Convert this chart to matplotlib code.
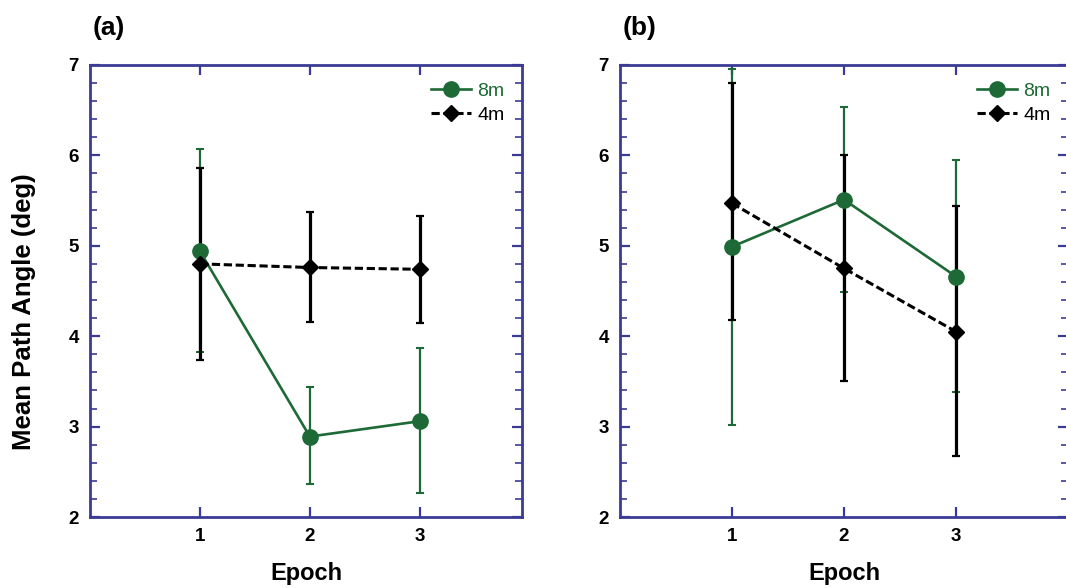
import numpy as np
import matplotlib
matplotlib.use("Agg")
import matplotlib.pyplot as plt
from matplotlib.lines import Line2D
from matplotlib.ticker import MultipleLocator

# Data (mean, lower end, upper end of error bar)
epochs = [1, 2, 3]

a_8m_mean = [4.94, 2.89, 3.06]
a_8m_low = [3.82, 2.37, 2.27]
a_8m_high = [6.07, 3.44, 3.87]
a_4m_mean = [4.80, 4.76, 4.74]
a_4m_low = [3.74, 4.16, 4.15]
a_4m_high = [5.86, 5.37, 5.33]

b_8m_mean = [4.99, 5.51, 4.66]
b_8m_low = [3.02, 4.49, 3.38]
b_8m_high = [6.96, 6.54, 5.95]
b_4m_mean = [5.47, 4.75, 4.05]
b_4m_low = [4.18, 3.50, 2.67]
b_4m_high = [6.80, 6.00, 5.44]

GREEN = "#1d6a36"
SPINE = "#3b3b96"
DASH = (0, (2.7, 1.2))

plt.rcParams.update({
    "font.family": ["Liberation Sans", "DejaVu Sans"],
    "font.weight": "bold",
})

fig = plt.figure(figsize=(10.66, 5.88), dpi=100)
ax_a = fig.add_axes([0.0844, 0.1207, 0.4053, 0.7688])
ax_b = fig.add_axes([0.5816, 0.1207, 0.4203, 0.7688])


def draw(ax, m8, l8, h8, m4, l4, h4, xmax, tag):
    m8, l8, h8 = map(np.asarray, (m8, l8, h8))
    m4, l4, h4 = map(np.asarray, (m4, l4, h4))
    # error bars: green below black
    ax.errorbar(epochs, m8, yerr=[m8 - l8, h8 - m8], fmt="none", ecolor=GREEN,
                elinewidth=1.6, capsize=3, capthick=1.5, zorder=2)
    ax.errorbar(epochs, m4, yerr=[m4 - l4, h4 - m4], fmt="none", ecolor="black",
                elinewidth=2.3, capsize=3, capthick=1.6, zorder=3)
    ax.plot(epochs, m8, color=GREEN, linewidth=1.9, marker="o",
            markersize=11, zorder=4)
    ax.plot(epochs, m4, color="black", linestyle=DASH, linewidth=2.2,
            marker="D", markersize=8, zorder=5)

    ax.set_xlim(0, xmax)
    ax.set_ylim(2, 7)
    ax.set_xticks(epochs)
    ax.yaxis.set_major_locator(MultipleLocator(1))
    ax.yaxis.set_minor_locator(MultipleLocator(0.2))
    ax.tick_params(axis="both", which="both", direction="in",
                   top=True, right=True, colors=SPINE, labelcolor="black",
                   labelsize=13.5)
    ax.tick_params(axis="both", which="major", length=7, width=1.6)
    ax.tick_params(axis="y", which="minor", length=5, width=1.2)
    ax.tick_params(axis="y", which="major", pad=8)
    ax.tick_params(axis="x", which="major", pad=8)
    for s in ax.spines.values():
        s.set_color(SPINE)
        s.set_linewidth(2)
    ax.set_xlabel("Epoch", fontsize=17, fontweight="bold", labelpad=12)

    handles = [
        Line2D([], [], color=GREEN, linewidth=1.9, marker="o", markersize=11),
        Line2D([], [], color="black", linestyle=DASH, linewidth=2.2,
               marker="D", markersize=8),
    ]
    leg = ax.legend(handles, ["8m", "4m"], loc="upper right",
                    frameon=False, handlelength=2.1, handletextpad=0.3,
                    labelspacing=0.3, borderaxespad=0.5,
                    prop={"weight": "normal", "size": 14})
    leg.get_texts()[0].set_color(GREEN)
    ax.text(0.005, 1.055, tag, transform=ax.transAxes, fontsize=19,
            fontweight="bold", va="bottom", ha="left")


draw(ax_a, a_8m_mean, a_8m_low, a_8m_high, a_4m_mean, a_4m_low, a_4m_high,
     3.93, "(a)")
draw(ax_b, b_8m_mean, b_8m_low, b_8m_high, b_4m_mean, b_4m_low, b_4m_high,
     4.0, "(b)")

ax_a.set_ylabel("Mean Path Angle (deg)", fontsize=18.5, fontweight="bold")
ax_a.yaxis.set_label_coords(-0.125, 0.454)

fig.savefig("out.png", dpi=100, facecolor="white")
